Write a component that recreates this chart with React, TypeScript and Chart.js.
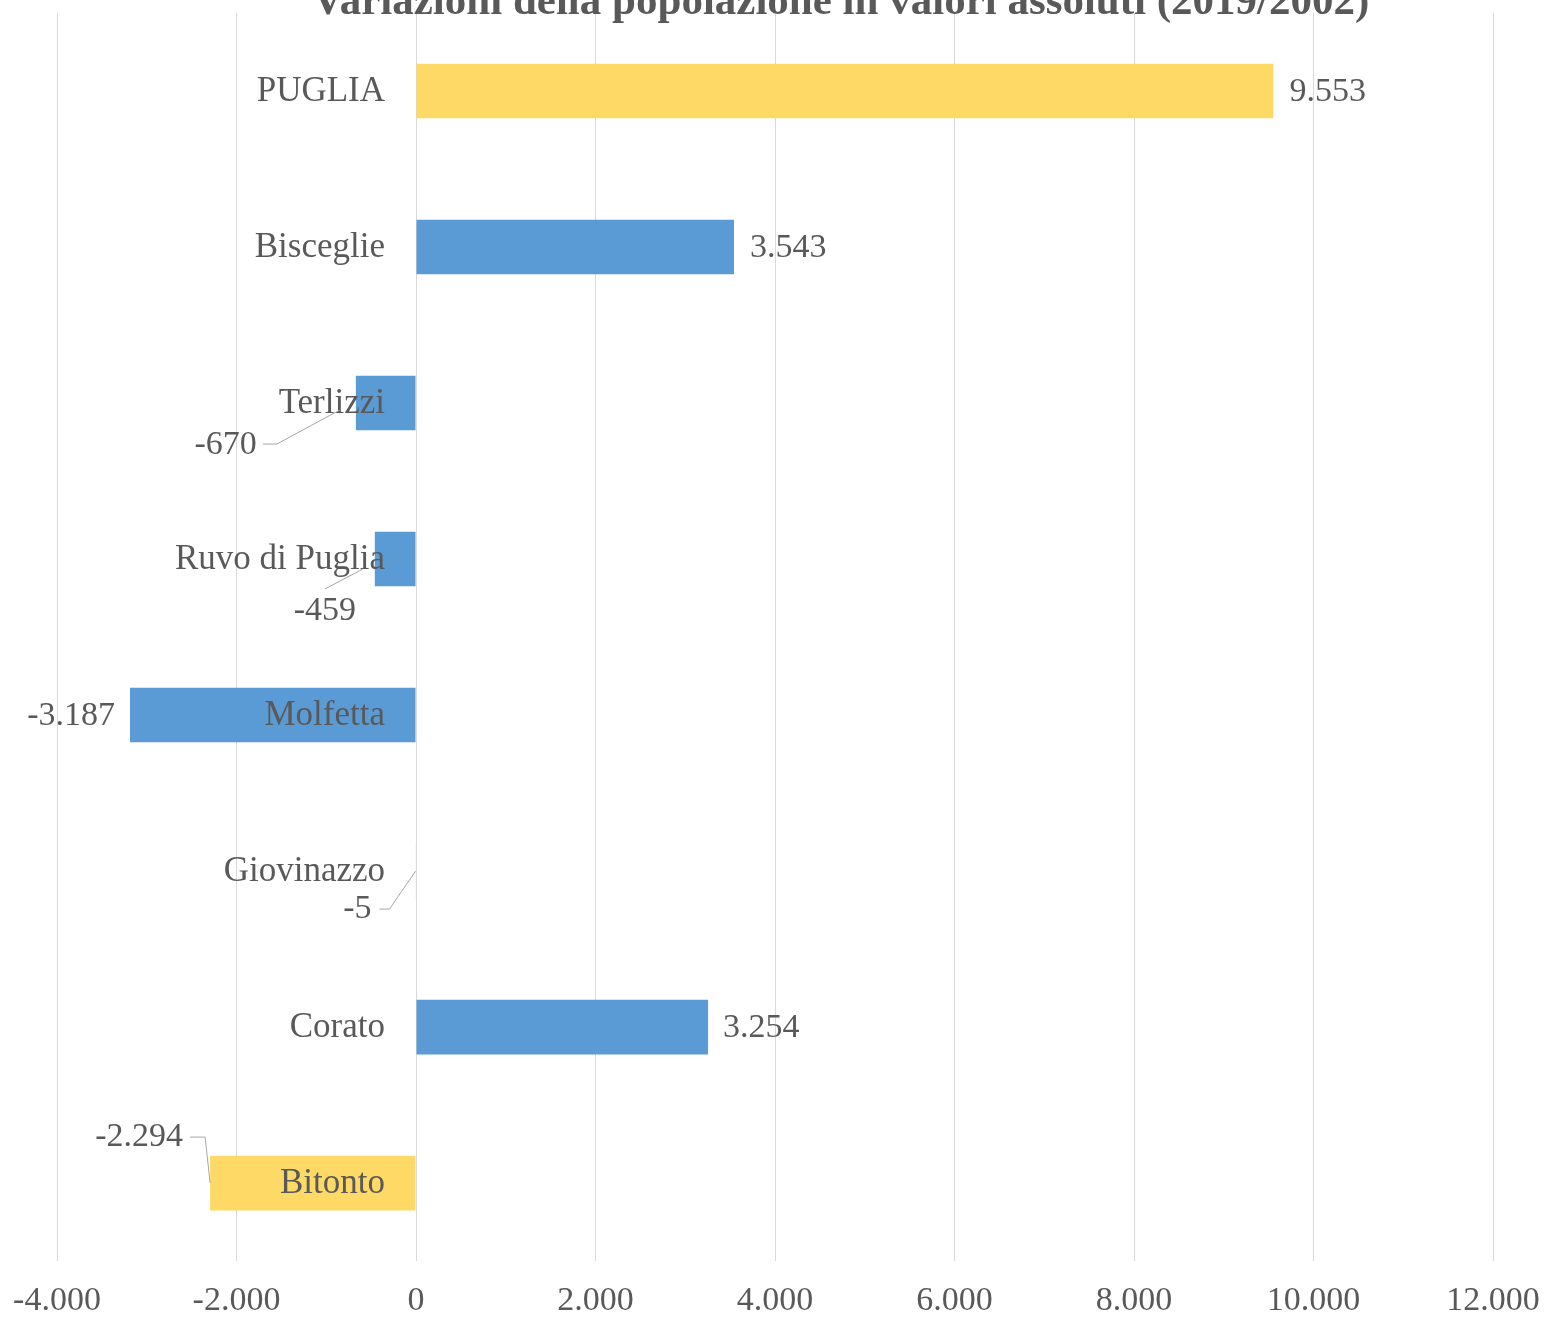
import React, { useEffect, useRef } from "react";
import { Chart, registerables } from "chart.js";

Chart.register(...registerables);

const TITLE = "Variazioni della popolazione in valori assoluti (2019/2002)";
const categories = ["PUGLIA", "Bisceglie", "Terlizzi", "Ruvo di Puglia", "Molfetta", "Giovinazzo", "Corato", "Bitonto"];
const values = [9553, 3543, -670, -459, -3187, -5, 3254, -2294];
const highlighted = [true, false, false, false, false, false, false, true];
const xTicks = [-4000, -2000, 0, 2000, 4000, 6000, 8000, 10000, 12000];

const YELLOW = "#FFD966";
const BLUE = "#5B9BD5";
const TEXT = "#595959";
const GRID = "#D9D9D9";
const FONT = "'Liberation Serif', 'Times New Roman', serif";

// label placement relative to bar end (x) and bar centre (y)
type Place = { align: CanvasTextAlign; dx: number; dy: number; leader?: number[][] };
const placements: Place[] = [
  { align: "left", dx: 16, dy: 0 },
  { align: "left", dx: 16, dy: 0 },
  { align: "right", dx: -99, dy: 41, leader: [[-93, 40], [-79, 40], [-16, 6]] },
  { align: "center", dx: -50, dy: 51, leader: [[-50, 29], [-12, 9]] },
  { align: "right", dx: -15, dy: 0 },
  { align: "right", dx: -44, dy: 37, leader: [[-36, 37], [-26, 37], [0, -1]] },
  { align: "left", dx: 15, dy: 0 },
  { align: "right", dx: -27, dy: -47, leader: [[-20, -47], [-5, -47], [0, -1]] },
];

function fmt(v: number): string {
  const s = Math.abs(v).toString().replace(/\B(?=(\d{3})+(?!\d))/g, ".");
  return (v < 0 ? "-" : "") + s;
}

const labelPlugin = {
  id: "customLabels",
  afterDatasetsDraw(chart: any) {
    const ctx = chart.ctx;
    const meta = chart.getDatasetMeta(0);
    const xScale = chart.scales.x;
    const zeroX = xScale.getPixelForValue(0);
    ctx.save();
    ctx.fillStyle = TEXT;
    ctx.textBaseline = "middle";
    meta.data.forEach((bar: any, i: number) => {
      const cy = bar.y + 1;
      const endX = bar.x;
      // category label
      ctx.font = `35px ${FONT}`;
      ctx.textAlign = "right";
      ctx.fillText(categories[i], zeroX - 31, cy);
      // value label
      ctx.font = `34px ${FONT}`;
      const p = placements[i];
      ctx.textAlign = p.align;
      ctx.fillText(fmt(values[i]), endX + p.dx, cy + p.dy);
      if (p.leader) {
        ctx.strokeStyle = "#A6A6A6";
        ctx.lineWidth = 1;
        ctx.beginPath();
        p.leader.forEach((pt, k) => {
          const x = endX + pt[0];
          const y = cy + pt[1];
          if (k === 0) ctx.moveTo(x, y);
          else ctx.lineTo(x, y);
        });
        ctx.stroke();
      }
    });
    // title (partially clipped at top)
    ctx.font = `bold 43px ${FONT}`;
    ctx.textAlign = "center";
    ctx.textBaseline = "alphabetic";
    ctx.fillText(TITLE, 841, 14);
    ctx.restore();
  },
};

export default function App() {
  const ref = useRef<HTMLCanvasElement | null>(null);
  useEffect(() => {
    document.body.style.margin = "0";
    const chart = new Chart(ref.current as HTMLCanvasElement, {
      type: "bar",
      data: {
        labels: categories,
        datasets: [
          {
            data: values,
            backgroundColor: highlighted.map((h) => (h ? YELLOW : BLUE)),
            borderWidth: 0,
            barPercentage: 0.35,
            categoryPercentage: 1,
          },
        ],
      },
      options: {
        indexAxis: "y",
        animation: false,
        responsive: false,
        layout: { padding: { left: 57, right: 54, top: 13, bottom: 3 } },
        plugins: { legend: { display: false }, tooltip: { enabled: false }, title: { display: false } },
        scales: {
          x: {
            min: -4000,
            max: 12000,
            afterBuildTicks: (axis: any) => {
              axis.ticks = xTicks.map((v) => ({ value: v }));
            },
            grid: { color: GRID, lineWidth: 1, drawTicks: true, tickLength: 24, tickColor: "rgba(0,0,0,0)" },
            border: { display: false },
            ticks: {
              color: TEXT,
              font: { family: FONT, size: 34, lineHeight: 0.85 },
              padding: 2,
              maxRotation: 0,
              callback: (v: any) => fmt(Number(v)),
            },
          },
          y: {
            display: false,
            grid: { display: false },
          },
        },
      },
      plugins: [labelPlugin],
    });
    return () => chart.destroy();
  }, []);
  return <canvas ref={ref} width={1547} height={1321} style={{ display: "block" }} />;
}
